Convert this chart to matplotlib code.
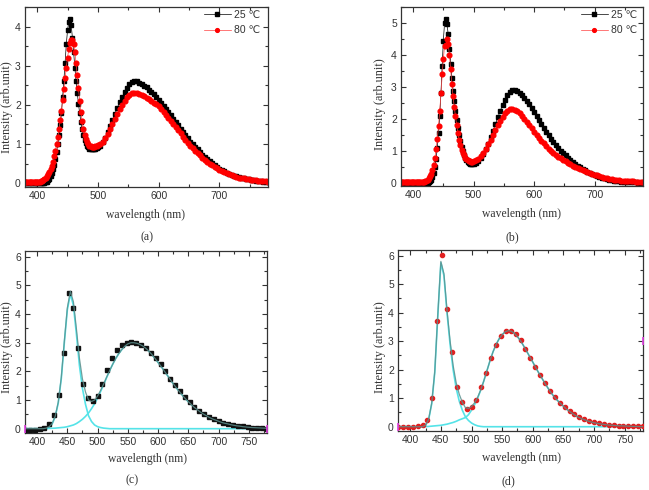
import numpy as np
import matplotlib
matplotlib.use("Agg")
import matplotlib.pyplot as plt
from matplotlib.ticker import MultipleLocator

# ---- panels (a) and (b): measured spectra at 25 C and 80 C ----
wl_ab = np.concatenate([np.arange(380, 501, 2), np.arange(504, 781, 4)])

a_25 = [0.0] * 16 + [
    0.01, 0.02, 0.04, 0.07, 0.11, 0.17, 0.25, 0.35, 0.47, 0.62,
    0.8, 1.0, 1.22, 1.48, 1.8, 2.2, 2.62, 3.08, 3.55, 3.9,
    4.12, 4.2, 4.05, 3.72, 3.35, 2.95, 2.6, 2.3, 2.02, 1.78,
    1.56, 1.38, 1.23, 1.11, 1.02, 0.95, 0.91, 0.88, 0.87, 0.86,
    0.86, 0.87, 0.88, 0.9, 0.93,
    0.96, 1.04, 1.15, 1.3, 1.45, 1.61, 1.77, 1.93, 2.07, 2.2,
    2.32, 2.43, 2.52, 2.58, 2.6, 2.6, 2.57, 2.53, 2.49, 2.45,
    2.39, 2.33, 2.27, 2.2, 2.13, 2.05, 1.97, 1.89, 1.81, 1.73,
    1.65, 1.56, 1.48, 1.39, 1.31, 1.23, 1.14, 1.06, 0.99, 0.92,
    0.86, 0.79, 0.73, 0.67, 0.61, 0.56, 0.51, 0.46, 0.41, 0.37,
    0.33, 0.3, 0.27, 0.24, 0.21, 0.19, 0.17, 0.15, 0.13, 0.12,
    0.11, 0.1, 0.09, 0.08, 0.06, 0.05, 0.045, 0.04, 0.035, 0.03]

a_80 = [0.03] * 12 + [
    0.04, 0.05, 0.06, 0.08, 0.1, 0.13, 0.17, 0.22, 0.28, 0.35,
    0.44, 0.55, 0.68, 0.83, 1.0, 1.18, 1.38, 1.6, 1.85, 2.12,
    2.4, 2.68, 2.95, 3.2, 3.42, 3.57, 3.65, 3.65, 3.55, 3.35,
    3.08, 2.75, 2.42, 2.1, 1.82, 1.58, 1.39, 1.24, 1.13, 1.05,
    1.0, 0.96, 0.94, 0.93, 0.93, 0.93, 0.94, 0.95, 0.97,
    1.0, 1.06, 1.14, 1.25, 1.37, 1.5, 1.63, 1.76, 1.89, 2.0,
    2.1, 2.19, 2.26, 2.3, 2.3, 2.29, 2.27, 2.25, 2.22, 2.18,
    2.14, 2.1, 2.05, 2.01, 1.96, 1.89, 1.82, 1.75, 1.67, 1.59,
    1.51, 1.43, 1.35, 1.27, 1.19, 1.11, 1.03, 0.96, 0.89, 0.83,
    0.77, 0.71, 0.65, 0.6, 0.55, 0.5, 0.46, 0.42, 0.38, 0.34,
    0.31, 0.28, 0.25, 0.22, 0.2, 0.18, 0.16, 0.14, 0.13, 0.12,
    0.11, 0.1, 0.09, 0.08, 0.07, 0.06, 0.055, 0.05, 0.045, 0.04]

b_25 = [0.0] * 23 + [
    0.02, 0.05, 0.1, 0.18, 0.3, 0.48, 0.75, 1.1, 1.55, 2.1,
    2.8, 3.65, 4.45, 5.0, 5.12, 4.98, 4.65, 4.2, 3.72, 3.28,
    2.88, 2.55, 2.25, 1.98, 1.72, 1.5, 1.3, 1.13, 0.99, 0.88,
    0.79, 0.72, 0.66, 0.62, 0.6, 0.59, 0.59, 0.6,
    0.63, 0.69, 0.78, 0.9, 1.05, 1.22, 1.42, 1.63, 1.84, 2.05,
    2.25, 2.44, 2.6, 2.74, 2.84, 2.9, 2.9, 2.87, 2.82, 2.75,
    2.66, 2.56, 2.45, 2.33, 2.2, 2.08, 1.96, 1.84, 1.72, 1.6,
    1.49, 1.38, 1.28, 1.18, 1.09, 1.0, 0.93, 0.86, 0.79, 0.72,
    0.66, 0.6, 0.54, 0.49, 0.44, 0.39, 0.35, 0.31, 0.27, 0.24,
    0.21, 0.18, 0.16, 0.14, 0.12, 0.1, 0.085, 0.07, 0.06, 0.05,
    0.04, 0.03, 0.025, 0.02, 0.015, 0.01, 0.01, 0.005, 0.005, 0.0]

b_80 = [0.03] * 19 + [
    0.04, 0.05, 0.07, 0.1, 0.14, 0.2, 0.28, 0.4, 0.56, 0.78,
    1.05, 1.38, 1.78, 2.25, 2.8, 3.4, 3.88, 4.28, 4.3, 4.5,
    4.35, 4.0, 3.55, 3.1, 2.72, 2.38, 2.08, 1.8, 1.56, 1.35,
    1.18, 1.04, 0.94, 0.86, 0.79, 0.74, 0.7, 0.68, 0.67, 0.66,
    0.66, 0.67,
    0.7, 0.76, 0.84, 0.94, 1.06, 1.2, 1.35, 1.5, 1.65, 1.8,
    1.94, 2.07, 2.18, 2.26, 2.3, 2.3, 2.28, 2.24, 2.18, 2.1,
    2.0, 1.9, 1.8, 1.7, 1.59, 1.5, 1.41, 1.32, 1.23, 1.15,
    1.07, 1.0, 0.94, 0.88, 0.82, 0.77, 0.72, 0.67, 0.62, 0.58,
    0.54, 0.5, 0.46, 0.43, 0.4, 0.37, 0.33, 0.3, 0.28, 0.25,
    0.23, 0.2, 0.18, 0.16, 0.14, 0.13, 0.11, 0.1, 0.09, 0.08,
    0.07, 0.065, 0.06, 0.055, 0.05, 0.045, 0.04, 0.035, 0.03, 0.03]

# ---- panels (c) and (d): sampled spectra with two-peak fit ----
wl_cd = np.arange(380, 781, 8)

c_data = [
    -0.03, -0.03, -0.03, -0.02, 0.03, 0.15, 0.47, 1.17, 2.65, 4.75,
    4.2, 2.82, 1.57, 1.06, 0.95, 1.14, 1.56, 2.05, 2.46, 2.76,
    2.93, 3.0, 3.02, 3.0, 2.93, 2.82, 2.65, 2.46, 2.25, 2.0,
    1.75, 1.52, 1.3, 1.1, 0.92, 0.77, 0.63, 0.52, 0.42, 0.34,
    0.27, 0.21, 0.17, 0.13, 0.1, 0.08, 0.06, 0.04, 0.02, 0.01,
    -0.01]

d_data = [
    0.0, 0.0, 0.0, 0.0, 0.02, 0.05, 0.23, 1.0, 3.7, 6.02,
    4.14, 2.62, 1.4, 0.88, 0.62, 0.7, 0.94, 1.4, 1.9, 2.42,
    2.87, 3.17, 3.35, 3.37, 3.24, 3.04, 2.74, 2.42, 2.1, 1.8,
    1.52, 1.25, 1.05, 0.84, 0.7, 0.55, 0.43, 0.34, 0.26, 0.2,
    0.16, 0.12, 0.09, 0.07, 0.05, 0.04, 0.03, 0.02, 0.02, 0.01,
    0.01]

wl_fit = np.arange(380, 781, 5)

c_blue = [0.0] * 7 + [
    0.02, 0.06, 0.17, 0.42, 0.9, 1.75, 3.0, 4.15, 4.7, 4.3,
    3.3, 2.2, 1.4, 0.85, 0.45, 0.25, 0.13, 0.07, 0.04, 0.02,
    0.01] + [0.0] * 53

c_yellow = [0.0] * 8 + [
    0.01, 0.015, 0.02, 0.03, 0.04, 0.05, 0.07, 0.1, 0.13, 0.18,
    0.25, 0.33, 0.43, 0.55, 0.7, 0.87, 1.07, 1.3, 1.54, 1.79,
    2.03, 2.25, 2.45, 2.62, 2.76, 2.88, 2.96, 3.0, 3.0, 2.98,
    2.94, 2.88, 2.8, 2.7, 2.58, 2.45, 2.31, 2.17, 2.02, 1.87,
    1.72, 1.57, 1.43, 1.3, 1.17, 1.05, 0.94, 0.84, 0.74, 0.66,
    0.58, 0.51, 0.45, 0.39, 0.34, 0.3, 0.26, 0.22, 0.19, 0.17,
    0.14, 0.12, 0.1, 0.09, 0.07, 0.06, 0.05, 0.04, 0.035, 0.03,
    0.025, 0.02, 0.015]

d_blue = [0.0] * 9 + [
    0.05, 0.25, 0.8, 1.9, 3.9, 5.75, 5.3, 4.0, 2.9, 2.0,
    1.35, 0.9, 0.58, 0.35, 0.22, 0.13, 0.07, 0.03, 0.01] + [0.0] * 53

d_yellow = [0.0] * 9 + [
    0.005, 0.01, 0.02, 0.03, 0.04, 0.05, 0.07, 0.09, 0.12, 0.15,
    0.19, 0.24, 0.28, 0.32, 0.42, 0.58, 0.77, 1.0, 1.28, 1.6,
    1.95, 2.3, 2.62, 2.88, 3.08, 3.23, 3.33, 3.37, 3.35, 3.28,
    3.16, 3.02, 2.84, 2.65, 2.46, 2.27, 2.07, 1.88, 1.7, 1.52,
    1.35, 1.19, 1.05, 0.93, 0.82, 0.72, 0.62, 0.54, 0.46, 0.39,
    0.33, 0.28, 0.24, 0.2, 0.17, 0.14, 0.12, 0.1, 0.085, 0.07,
    0.06, 0.05, 0.04, 0.035, 0.03, 0.025, 0.02, 0.015, 0.01, 0.01,
    0.005, 0.005]

# fit range markers (magenta) seen at the panel edges
c_marks = ([380, 780], [0.0, 0.0])
d_marks = ([380, 780], [0.0, 3.0])

legend_labels = ["25 \u2103", "80 \u2103"]
panel_tags = ["(a)", "(b)", "(c)", "(d)"]

SANS = ["Liberation Sans", "DejaVu Sans"]
SERIF = ["Liberation Serif", "DejaVu Serif"]
plt.rcParams["font.family"] = SANS
plt.rcParams["axes.linewidth"] = 0.9
plt.rcParams["axes.edgecolor"] = "#333333"

W, H = 649, 490
fig = plt.figure(figsize=(W / 100, H / 100), dpi=100)


def box(l, t, r, b):
    return [l / W, 1 - b / H, (r - l) / W, (b - t) / H]


def style(ax, xmaj, ymax_lim, ymin_lim, ymaj_top):
    ax.set_xlim(380, 780)
    ax.set_ylim(ymin_lim, ymax_lim)
    ax.xaxis.set_major_locator(MultipleLocator(xmaj))
    ax.xaxis.set_minor_locator(MultipleLocator(xmaj / 2))
    ax.yaxis.set_major_locator(MultipleLocator(1))
    ax.yaxis.set_minor_locator(MultipleLocator(0.5))
    ax.tick_params(which="both", direction="in", top=True, right=True,
                   colors="#333333", labelsize=7.5, width=0.8)
    ax.tick_params(which="major", length=3.5, pad=3)
    ax.tick_params(which="minor", length=2)
    ax.set_xticks([t for t in ax.get_xticks() if 380 <= t <= 780])
    ax.set_yticks(np.arange(0, ymaj_top + 1, 1))


ax_a = fig.add_axes(box(25, 7, 268, 187))
ax_b = fig.add_axes(box(401, 7, 643, 186))
ax_c = fig.add_axes(box(25, 251, 267, 433))
ax_d = fig.add_axes(box(398, 250, 643, 431))

for ax, s25, s80, ytop, lx in [(ax_a, a_25, a_80, 4.5, 0.735),
                              (ax_b, b_25, b_80, 5.5, 0.742)]:
    ax.plot(wl_ab, s25, color="black", lw=0.5, marker="s", ms=3.2,
            mec="black", mfc="black", label=legend_labels[0])
    ax.plot(wl_ab, s80, color="#ff4040", lw=0.5, marker="o", ms=3.4,
            mec="red", mfc="red", label=legend_labels[1])
    style(ax, 100, ytop, -0.1, int(ytop))
    leg = ax.legend(loc="upper left", bbox_to_anchor=(lx, 0.985), frameon=False,
                    fontsize=7.5, handlelength=2.6, handletextpad=0.3,
                    labelspacing=0.55, borderpad=0, borderaxespad=0,
                    markerscale=0.8)
    for t in leg.get_texts():
        t.set_color("#333333")

blue_col = "#55e3e8"
sum_col = "#5b8f8c"
for ax, data, blue, yellow, marks, mk, mc in [
        (ax_c, c_data, c_blue, c_yellow, c_marks, "s", "#111111"),
        (ax_d, d_data, d_blue, d_yellow, d_marks, "o", "#e02020")]:
    ax.plot(wl_fit, blue, color=blue_col, lw=1.2, zorder=2)
    ax.plot(wl_fit, yellow, color=blue_col, lw=1.2, zorder=2)
    ax.plot(wl_cd, data, ls="none", marker=mk, ms=3.0, mfc=mc, mec=mc, zorder=3)
    ax.plot(wl_fit, np.array(blue) + np.array(yellow), color=sum_col, lw=0.9,
            alpha=0.85, zorder=4)
    ax.plot(marks[0], marks[1], ls="none", marker="|", ms=6, mew=1.2,
            color="#e040e0", clip_on=False, zorder=5)
    style(ax, 50, 6.2, -0.15, 6)

# axis titles
lab_kw = dict(family=SERIF, color="#333333")
for xc, yc in [(146, 215), (522, 214), (147, 459), (522, 458)]:
    fig.text(xc / W, 1 - yc / H, "wavelength (nm)", ha="center", va="center",
             fontsize=8.4, **lab_kw)
for xc, yc in [(7, 107), (380, 104), (7, 347), (380, 347)]:
    fig.text(xc / W, 1 - yc / H, "Intensity (arb.unit)", ha="center",
             va="center", rotation=90, fontsize=8.8, **lab_kw)
for tag, (xc, yc) in zip(panel_tags, [(147, 237), (512, 237), (132, 480), (508, 481)]):
    fig.text(xc / W, 1 - yc / H, tag, ha="center", va="center",
             fontsize=8.6, **lab_kw)

fig.savefig("out.png", dpi=100)
